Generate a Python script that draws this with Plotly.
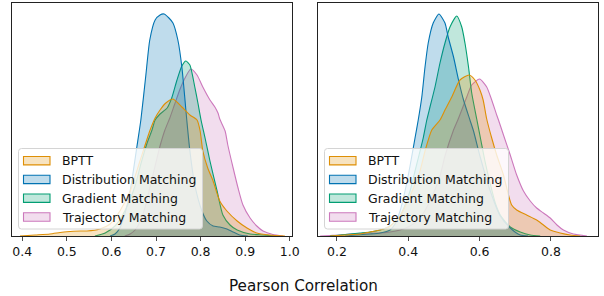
import plotly.graph_objects as go

LABELS = ["BPTT", "Distribution Matching", "Gradient Matching", "Trajectory Matching"]
COLORS = ["#DE8F05", "#0173B2", "#029E73", "#CC78BC"]
X_TITLE = "Pearson Correlation"

# ---- Left panel: KDE curves (correlation value, density) ----
L_BPTT_X = [0.395, 0.429, 0.462, 0.485, 0.500, 0.530, 0.545, 0.574, 0.597, 0.619, 0.642, 0.664, 0.686, 0.698, 0.709, 0.722, 0.738, 0.758, 0.776, 0.792, 0.799, 0.805, 0.816, 0.828, 0.843, 0.859, 0.882, 0.904, 0.926, 0.955, 0.989]
L_BPTT_Y = [0.00, 0.04, 0.08, 0.14, 0.17, 0.20, 0.20, 0.28, 0.48, 1.00, 1.80, 3.00, 4.20, 4.72, 5.04, 5.32, 5.48, 5.16, 4.84, 4.64, 4.20, 3.40, 2.72, 2.20, 1.40, 1.00, 0.60, 0.32, 0.12, 0.04, 0.00]

L_DIST_X = [0.597, 0.608, 0.619, 0.630, 0.642, 0.657, 0.666, 0.677, 0.686, 0.698, 0.709, 0.718, 0.729, 0.738, 0.749, 0.758, 0.765, 0.769, 0.776, 0.787, 0.803, 0.814, 0.828, 0.843, 0.859, 0.873, 0.888, 0.906]
L_DIST_Y = [0.00, 0.08, 0.32, 0.88, 1.80, 3.56, 4.64, 6.40, 7.84, 8.64, 8.84, 8.88, 8.72, 8.52, 7.84, 6.76, 5.44, 4.64, 3.40, 2.04, 1.00, 0.60, 0.40, 0.36, 0.28, 0.16, 0.04, 0.00]

L_GRAD_X = [0.563, 0.586, 0.608, 0.630, 0.653, 0.666, 0.680, 0.691, 0.698, 0.709, 0.725, 0.736, 0.747, 0.758, 0.767, 0.776, 0.787, 0.794, 0.801, 0.810, 0.821, 0.837, 0.850, 0.866, 0.882, 0.911, 0.940, 0.967]
L_GRAD_Y = [0.00, 0.12, 0.40, 1.00, 2.00, 2.88, 3.72, 4.24, 4.64, 4.88, 5.12, 5.56, 6.24, 6.80, 7.00, 6.84, 5.96, 5.32, 4.64, 3.92, 3.00, 1.80, 0.84, 0.44, 0.24, 0.08, 0.04, 0.00]

L_TRAJ_X = [0.630, 0.642, 0.653, 0.664, 0.675, 0.686, 0.698, 0.709, 0.720, 0.731, 0.742, 0.754, 0.765, 0.778, 0.792, 0.805, 0.821, 0.832, 0.839, 0.843, 0.855, 0.861, 0.873, 0.884, 0.895, 0.911, 0.926, 0.940, 0.962, 0.985]
L_TRAJ_Y = [0.00, 0.08, 0.24, 0.56, 1.12, 1.92, 2.80, 3.60, 4.24, 4.72, 5.28, 5.88, 6.32, 6.68, 6.44, 5.96, 5.44, 5.16, 4.92, 4.68, 4.20, 3.64, 2.72, 1.92, 1.24, 0.72, 0.40, 0.20, 0.06, 0.00]

# ---- Right panel ----
R_BPTT_X = [0.181, 0.223, 0.265, 0.293, 0.321, 0.349, 0.377, 0.405, 0.433, 0.447, 0.466, 0.489, 0.503, 0.522, 0.545, 0.571, 0.587, 0.601, 0.610, 0.620, 0.634, 0.648, 0.667, 0.681, 0.690, 0.704, 0.732, 0.760, 0.779, 0.798, 0.826, 0.854, 0.882]
R_BPTT_Y = [0.00, 0.04, 0.08, 0.16, 0.24, 0.40, 0.80, 1.60, 2.60, 3.40, 4.24, 4.64, 5.04, 5.56, 6.24, 6.44, 6.24, 5.84, 5.44, 4.68, 3.92, 3.24, 2.44, 1.64, 1.24, 1.04, 0.84, 0.64, 0.44, 0.24, 0.12, 0.04, 0.00]

R_DIST_X = [0.223, 0.251, 0.293, 0.321, 0.349, 0.363, 0.377, 0.391, 0.405, 0.419, 0.428, 0.438, 0.447, 0.456, 0.470, 0.486, 0.503, 0.512, 0.527, 0.541, 0.555, 0.573, 0.583, 0.601, 0.630, 0.658, 0.686, 0.714, 0.736]
R_DIST_Y = [0.00, 0.04, 0.08, 0.12, 0.24, 0.48, 1.00, 1.80, 2.80, 3.92, 4.64, 5.56, 6.76, 7.72, 8.52, 8.88, 8.52, 7.96, 7.16, 6.24, 5.44, 4.64, 4.20, 3.20, 1.80, 0.80, 0.32, 0.04, 0.00]

R_GRAD_X = [0.181, 0.209, 0.237, 0.265, 0.293, 0.321, 0.349, 0.377, 0.405, 0.419, 0.442, 0.452, 0.461, 0.475, 0.489, 0.503, 0.517, 0.536, 0.550, 0.559, 0.569, 0.578, 0.592, 0.604, 0.615, 0.630, 0.644, 0.658, 0.686, 0.714, 0.742, 0.770]
R_GRAD_Y = [0.00, 0.04, 0.08, 0.12, 0.16, 0.24, 0.40, 0.80, 1.80, 2.60, 3.92, 4.64, 5.16, 5.96, 6.92, 7.72, 8.36, 8.80, 8.36, 7.72, 6.76, 5.72, 4.68, 3.80, 3.00, 2.08, 1.32, 0.84, 0.36, 0.16, 0.04, 0.00]

R_TRAJ_X = [0.153, 0.181, 0.209, 0.237, 0.265, 0.293, 0.321, 0.349, 0.377, 0.405, 0.433, 0.461, 0.489, 0.503, 0.526, 0.539, 0.550, 0.564, 0.578, 0.600, 0.620, 0.634, 0.648, 0.653, 0.667, 0.686, 0.704, 0.723, 0.742, 0.760, 0.779, 0.798, 0.817, 0.835, 0.863, 0.901]
R_TRAJ_Y = [0.00, 0.02, 0.04, 0.08, 0.10, 0.12, 0.12, 0.16, 0.24, 0.40, 0.72, 1.40, 2.40, 3.20, 4.20, 4.64, 5.04, 5.56, 6.04, 6.28, 5.96, 5.44, 4.84, 4.64, 4.04, 3.24, 2.44, 1.80, 1.40, 1.12, 0.92, 0.72, 0.44, 0.24, 0.08, 0.00]

LEFT_TICKS = [0.4, 0.5, 0.6, 0.7, 0.8, 0.9, 1.0]
RIGHT_TICKS = [0.2, 0.4, 0.6, 0.8]

LEFT_SERIES = [(L_BPTT_X, L_BPTT_Y), (L_DIST_X, L_DIST_Y), (L_GRAD_X, L_GRAD_Y), (L_TRAJ_X, L_TRAJ_Y)]
RIGHT_SERIES = [(R_BPTT_X, R_BPTT_Y), (R_DIST_X, R_DIST_Y), (R_GRAD_X, R_GRAD_Y), (R_TRAJ_X, R_TRAJ_Y)]

W, H = 604, 296
FONT = "DejaVu Sans"


def rgba(hex_color, a):
    h = hex_color.lstrip("#")
    r, g, b = int(h[0:2], 16), int(h[2:4], 16), int(h[4:6], 16)
    return f"rgba({r},{g},{b},{a})"


def PX(px):
    return px / W


def PY(py):
    return 1 - py / H


fig = go.Figure()

for series, xa, ya in [(LEFT_SERIES, "x", "y"), (RIGHT_SERIES, "x2", "y2")]:
    for i in reversed(range(len(LABELS))):
        xs, ys = series[i]
        fig.add_trace(go.Scatter(
            x=xs, y=ys, xaxis=xa, yaxis=ya, mode="lines", name=LABELS[i],
            line=dict(color=COLORS[i], width=1.1, shape="spline", smoothing=0.6),
            fill="tozeroy", fillcolor=rgba(COLORS[i], 0.25), showlegend=False,
            hoverinfo="skip",
        ))

# frames in pixels
FRAMES = [(12, 292), (318, 598)]
TOP, BOT = 3, 236

axis_common = dict(showline=True, mirror=True, linecolor="#222", linewidth=1,
                   showgrid=False, zeroline=False, fixedrange=True, automargin=False)

fig.update_layout(
    template="none",
    width=W, height=H, autosize=False, margin=dict(l=0, r=0, t=0, b=0, pad=0),
    plot_bgcolor="white", paper_bgcolor="white", showlegend=False,
    font=dict(family=FONT, size=12.5, color="#111"),
    xaxis=dict(domain=[PX(FRAMES[0][0]), PX(FRAMES[0][1])], range=[0.377, 1.005],
               tickvals=LEFT_TICKS, ticktext=[f"{v:.1f}" for v in LEFT_TICKS],
               ticks="outside", ticklen=3.5, tickwidth=0.8, tickcolor="#222",
               tickfont=dict(size=12.5, color="#111"), anchor="y", **axis_common),
    yaxis=dict(domain=[PY(BOT), PY(TOP)], range=[0, 9.32], showticklabels=False,
               ticks="", anchor="x", **axis_common),
    xaxis2=dict(domain=[PX(FRAMES[1][0]), PX(FRAMES[1][1])], range=[0.147, 0.932],
                tickvals=RIGHT_TICKS, ticktext=[f"{v:.1f}" for v in RIGHT_TICKS],
                ticks="outside", ticklen=3.5, tickwidth=0.8, tickcolor="#222",
                tickfont=dict(size=12.5, color="#111"), anchor="y2", **axis_common),
    yaxis2=dict(domain=[PY(BOT), PY(TOP)], range=[0, 9.32], showticklabels=False,
                ticks="", anchor="x2", **axis_common),
)

shapes = []
annotations = []


def rounded_rect(x0, y0, x1, y1, r):
    return (f"M {PX(x0 + r)},{PY(y0)} L {PX(x1 - r)},{PY(y0)} "
            f"Q {PX(x1)},{PY(y0)} {PX(x1)},{PY(y0 + r)} L {PX(x1)},{PY(y1 - r)} "
            f"Q {PX(x1)},{PY(y1)} {PX(x1 - r)},{PY(y1)} L {PX(x0 + r)},{PY(y1)} "
            f"Q {PX(x0)},{PY(y1)} {PX(x0)},{PY(y1 - r)} L {PX(x0)},{PY(y0 + r)} "
            f"Q {PX(x0)},{PY(y0)} {PX(x0 + r)},{PY(y0)} Z")


ROW_CENTERS = [160.7, 179.4, 198.2, 217.0]
for fl, fr in FRAMES:
    bx0, bx1 = fl + 6.5, fl + 6.5 + 184
    shapes.append(dict(type="path", xref="paper", yref="paper",
                       path=rounded_rect(bx0, 148.5, bx1, 229, 3),
                       fillcolor="rgba(255,255,255,0.8)",
                       line=dict(color="#d4d4d4", width=1), layer="above"))
    for i, lab in enumerate(LABELS):
        cy = ROW_CENTERS[i]
        shapes.append(dict(type="rect", xref="paper", yref="paper",
                           x0=PX(fl + 11.5), x1=PX(fl + 38), y0=PY(cy + 4.2), y1=PY(cy - 4.2),
                           fillcolor=rgba(COLORS[i], 0.25),
                           line=dict(color=COLORS[i], width=1.1), layer="above"))
        annotations.append(dict(xref="paper", yref="paper", x=PX(fl + 48), y=PY(cy),
                                xanchor="left", yanchor="middle", showarrow=False,
                                text=lab, font=dict(family=FONT, size=12.5, color="#111")))

annotations.append(dict(xref="paper", yref="paper", x=PX(303.8), y=PY(285.5),
                        xanchor="center", yanchor="middle", showarrow=False,
                        text=X_TITLE, font=dict(family=FONT, size=15.2, color="#111")))

fig.update_layout(shapes=shapes, annotations=annotations, hovermode=False)
fig.write_html("out.html",
               config={"displayModeBar": False, "staticPlot": True, "responsive": False},
               post_script="document.body.style.margin='0px';document.body.style.overflow='hidden';")
